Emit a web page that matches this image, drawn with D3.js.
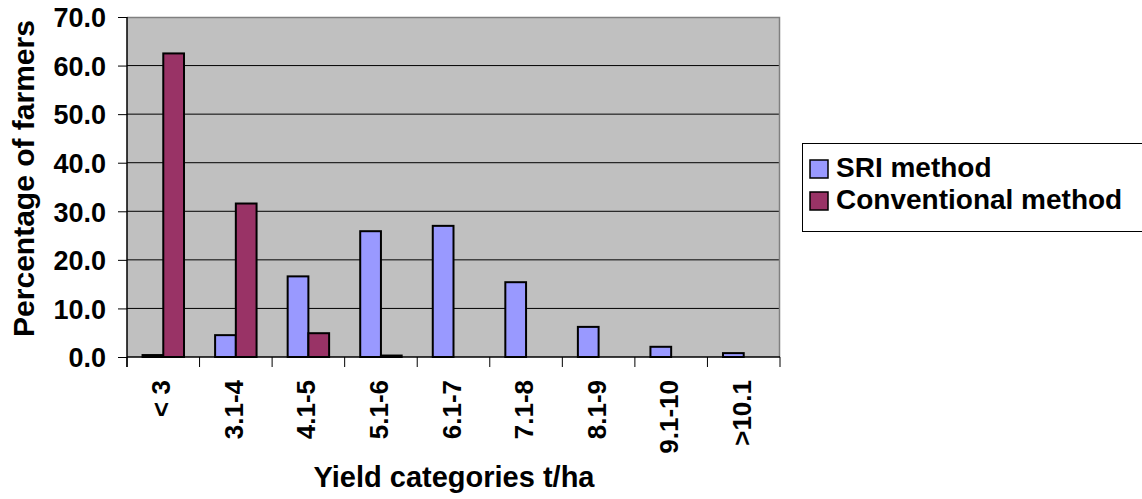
<!DOCTYPE html>
<html>
<head>
<meta charset="utf-8">
<script src="https://cdn.jsdelivr.net/npm/d3@7"></script>
<style>
  html, body { margin: 0; padding: 0; background: #ffffff; }
  svg { display: block; }
  text { font-family: "Liberation Sans", Arial, Helvetica, sans-serif; font-weight: bold; fill: #000; }
</style>
</head>
<body>
<svg id="chart" width="1142" height="499"></svg>
<script>
// Yield classes (t/ha) and share of farmers (%) in each class
const categories = ["< 3", "3.1-4", "4.1-5", "5.1-6", "6.1-7", "7.1-8", "8.1-9", "9.1-10", ">10.1"];
const sriValues = [0.4, 4.5, 16.6, 25.9, 27.0, 15.4, 6.2, 2.1, 0.8];
const conventionalValues = [62.5, 31.6, 4.9, 0.3, null, null, null, null, null];
const seriesNames = ["SRI method", "Conventional method"];
const seriesColors = ["#9999FF", "#993366"];
const yTicks = [0, 10, 20, 30, 40, 50, 60, 70];

const svg = d3.select("#chart");
const plot = { left: 127, top: 17, right: 780, bottom: 357 };

const x = d3.scaleBand()
  .domain(categories)
  .range([plot.left, plot.right])
  .paddingInner(1.5 / 3.5)
  .paddingOuter(0.75 / 3.5);

const xSeries = d3.scaleBand()
  .domain(seriesNames)
  .range([0, x.bandwidth()]);

const y = d3.scaleLinear().domain([0, 70]).range([plot.bottom, plot.top]);

// plot area background
svg.append("rect")
  .attr("x", plot.left).attr("y", plot.top)
  .attr("width", plot.right - plot.left).attr("height", plot.bottom - plot.top)
  .attr("fill", "#C0C0C0");

// horizontal gridlines
svg.append("g")
  .selectAll("line")
  .data(yTicks.filter(t => t > 0 && t < 70))
  .join("line")
  .attr("x1", plot.left).attr("x2", plot.right)
  .attr("y1", d => y(d)).attr("y2", d => y(d))
  .attr("stroke", "#000").attr("stroke-width", 1);

// plot frame (top and right)
svg.append("path")
  .attr("d", `M${plot.left},${plot.top + 0.5}H${plot.right - 0.5}V${plot.bottom}`)
  .attr("fill", "none").attr("stroke", "#808080").attr("stroke-width", 1.5);

// bars
const rows = categories.map((c, i) => ({ cat: c, vals: [sriValues[i], conventionalValues[i]] }));
const groups = svg.append("g")
  .selectAll("g")
  .data(rows)
  .join("g")
  .attr("transform", d => `translate(${x(d.cat)},0)`);

groups.selectAll("rect")
  .data(d => d.vals.map((v, k) => ({ name: seriesNames[k], v, color: seriesColors[k] })).filter(e => e.v != null))
  .join("rect")
  .attr("x", d => xSeries(d.name))
  .attr("width", xSeries.bandwidth())
  .attr("y", d => y(d.v))
  .attr("height", d => y(0) - y(d.v))
  .attr("fill", d => d.color)
  .attr("stroke", "#000")
  .attr("stroke-width", 2);

// y axis
const yAxis = d3.axisLeft(y)
  .tickValues(yTicks)
  .tickFormat(d3.format(".1f"))
  .tickSize(9)
  .tickPadding(12);
const gy = svg.append("g")
  .attr("transform", `translate(${plot.left},0)`)
  .call(yAxis);
gy.select(".domain").attr("stroke", "#000").attr("stroke-width", 1.5)
  .attr("d", `M0,${plot.top}V${plot.bottom + 10}`);
gy.selectAll(".tick line").attr("stroke", "#000");
gy.selectAll(".tick text")
  .attr("font-size", 27)
  .attr("font-family", null)
  .attr("dy", "0.36em");

// x axis: category boundary ticks
const boundaries = d3.range(categories.length + 1).map(i => plot.left + i * x.step() - (i === 0 ? 0 : 0));
svg.append("line")
  .attr("x1", plot.left).attr("x2", plot.right)
  .attr("y1", y(0)).attr("y2", y(0))
  .attr("stroke", "#000").attr("stroke-width", 1.5);
svg.append("g")
  .selectAll("line")
  .data(d3.range(categories.length + 1))
  .join("line")
  .attr("x1", i => x.range()[0] + i * x.step())
  .attr("x2", i => x.range()[0] + i * x.step())
  .attr("y1", y(0)).attr("y2", y(0) + 10)
  .attr("stroke", "#000").attr("stroke-width", 1);

// x tick labels, rotated
svg.append("g")
  .selectAll("text")
  .data(categories)
  .join("text")
  .attr("transform", d => `translate(${x(d) + x.bandwidth() / 2 + 7},380) rotate(-90)`)
  .attr("text-anchor", "end")
  .attr("font-size", 26)
  .text(d => d);

// axis titles
svg.append("text")
  .attr("x", 454).attr("y", 487)
  .attr("text-anchor", "middle")
  .attr("font-size", 29)
  .text("Yield categories t/ha");

svg.append("text")
  .attr("transform", "translate(34,178.5) rotate(-90)")
  .attr("text-anchor", "middle")
  .attr("font-size", 30)
  .text("Percentage of farmers");

// legend
const legend = svg.append("g").attr("transform", "translate(802,143)");
legend.append("rect")
  .attr("x", 0.5).attr("y", 0.5)
  .attr("width", 360).attr("height", 88)
  .attr("fill", "#fff").attr("stroke", "#000").attr("stroke-width", 1);
const items = legend.selectAll("g.item")
  .data(seriesNames)
  .join("g")
  .attr("class", "item")
  .attr("transform", (d, i) => `translate(8,${17 + i * 32})`);
items.append("rect")
  .attr("width", 18).attr("height", 18)
  .attr("fill", (d, i) => seriesColors[i])
  .attr("stroke", "#000").attr("stroke-width", 1.5);
items.append("text")
  .attr("x", 26).attr("y", 17)
  .attr("font-size", 28)
  .text(d => d);
</script>
</body>
</html>
